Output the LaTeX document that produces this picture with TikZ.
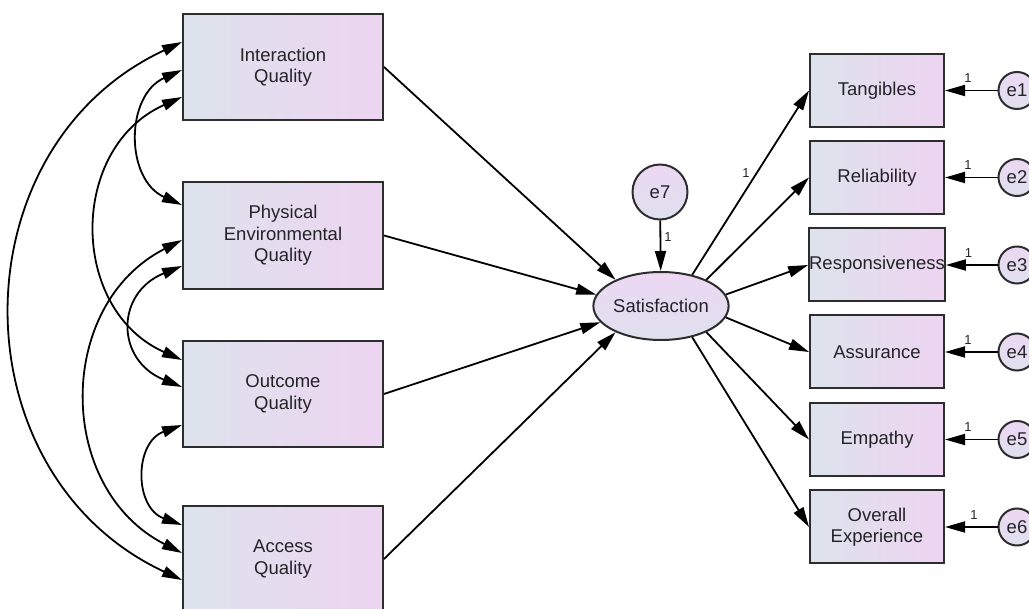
\documentclass[tikz,border=0pt]{standalone}
\usepackage{fontspec}
\setmainfont{Liberation Sans}
\usetikzlibrary{arrows.meta,shapes.geometric}

\definecolor{boxleft}{RGB}{221,227,236}
\definecolor{boxright}{RGB}{237,212,241}
\definecolor{ovaltop}{RGB}{237,215,243}
\definecolor{ovalbot}{RGB}{222,225,238}
\definecolor{edge}{RGB}{45,45,48}
\definecolor{ink}{RGB}{35,35,40}

\begin{document}
\begin{tikzpicture}[x=1pt,y=-1pt,
  obs/.style={draw=edge, line width=2pt, left color=boxleft, right color=boxright,
    inner sep=0pt, align=center, text=ink, font=\fontsize{18.5}{21.5}\selectfont},
  leftbox/.style={obs, minimum width=200pt, minimum height=106pt},
  rightbox/.style={obs, minimum width=134pt, minimum height=73pt},
  latent/.style={draw=edge, line width=2pt, ellipse, top color=ovaltop, bottom color=ovalbot,
    inner sep=0pt, text=ink, font=\fontsize{18.5}{21.5}\selectfont},
  err/.style={draw=edge, line width=2pt, circle, top color=ovaltop, bottom color=ovalbot,
    inner sep=0pt, minimum size=37pt, text=ink, font=\fontsize{18.5}{21.5}\selectfont},
  tip/.tip={Triangle[length=20pt,width=11pt]},
  reg/.style={line width=1.8pt, draw=black, -tip},
  cov/.style={line width=1.8pt, draw=black, tip-tip},
  wt/.style={font=\fontsize{13}{15}\selectfont, text=ink, inner sep=0pt}
]
\useasboundingbox (0,0) rectangle (1029,609);

% exogenous quality dimensions
\node[leftbox] (iq) at (283,67) {Interaction\\Quality};
\node[leftbox, minimum height=107pt] (pe) at (283,235.5) {Physical\\Environmental\\Quality};
\node[leftbox] (oq) at (283,394) {Outcome\\Quality};
\node[leftbox] (aq) at (283,559) {Access\\Quality};

% latent satisfaction and its disturbance
\node[latent, minimum width=108pt, minimum height=68pt] (sat) at (661,306) {Satisfaction};
\node[err, minimum size=55pt] (e7) at (660,192) {e7};

% indicators
\node[rightbox] (tang) at (877,90.5) {Tangibles};
\node[rightbox] (rel)  at (877,177.5) {Reliability};
\node[rightbox] (resp) at (877,265) {Responsiveness};
\node[rightbox] (assu) at (877,352) {Assurance};
\node[rightbox] (emp)  at (877,439.5) {Empathy};
\node[rightbox] (over) at (877,527) {Overall\\Experience};

% measurement errors
\node[err] (e1) at (1017,90.5) {e1};
\node[err] (e2) at (1017,177.5) {e2};
\node[err] (e3) at (1017,265) {e3};
\node[err] (e4) at (1017,352) {e4};
\node[err] (e5) at (1017,439.5) {e5};
\node[err] (e6) at (1017,527) {e6};

% structural paths
\draw[reg] (iq.east) -- (sat.150);
\draw[reg] (pe.east) -- (sat.170);
\draw[reg] (oq.east) -- (sat.195);
\draw[reg] (aq.east) -- (sat.210);
\draw[reg] (e7) -- node[wt, pos=0.33, right=3pt] {1} (sat);

% loadings
\draw[reg] (sat.45)  -- node[wt, pos=0.55, left=6pt] {1} (tang.west);
\draw[reg] (sat.30)  -- (rel.west);
\draw[reg] (sat.10)  -- (resp.west);
\draw[reg] (sat.-10) -- (assu.west);
\draw[reg] (sat.-30) -- (emp.west);
\draw[reg] (sat.-45) -- (over.west);

% error paths
\draw[reg] (e1) -- node[wt, pos=0.56, above=7pt] {1} (tang);
\draw[reg] (e2) -- node[wt, pos=0.56, above=7pt] {1} (rel);
\draw[reg] (e3) -- node[wt, pos=0.56, above=7pt] {1} (resp);
\draw[reg] (e4) -- node[wt, pos=0.56, above=7pt] {1} (assu);
\draw[reg] (e5) -- node[wt, pos=0.56, above=7pt] {1} (emp);
\draw[reg] (e6) -- node[wt, pos=0.45, above=7pt] {1} (over);

% covariances among the quality dimensions
\draw[cov] ([yshift=25pt]iq.west) .. controls +(-226.7,105.7) and +(-226.7,-105.7) .. ([yshift=-21pt]aq.west);
\draw[cov] ([yshift=-3pt]iq.west) .. controls +(-57,25.5) and +(-57,-25.5) .. ([yshift=30.5pt]pe.west);
\draw[cov] ([yshift=-30pt]iq.west) .. controls +(-113.4,50.5) and +(-113.4,-50.5) .. ([yshift=34pt]oq.west);
\draw[cov] ([yshift=-4.5pt]pe.west) .. controls +(-126.7,64.6) and +(-126.7,-64.6) .. ([yshift=6pt]aq.west);
\draw[cov] ([yshift=-30.5pt]pe.west) .. controls +(-66.7,26.9) and +(-66.7,-26.9) .. ([yshift=7pt]oq.west);
\draw[cov] ([yshift=-31pt]oq.west) .. controls +(-48,17.5) and +(-48,-17.5) .. ([yshift=34pt]aq.west);
\end{tikzpicture}
\end{document}
